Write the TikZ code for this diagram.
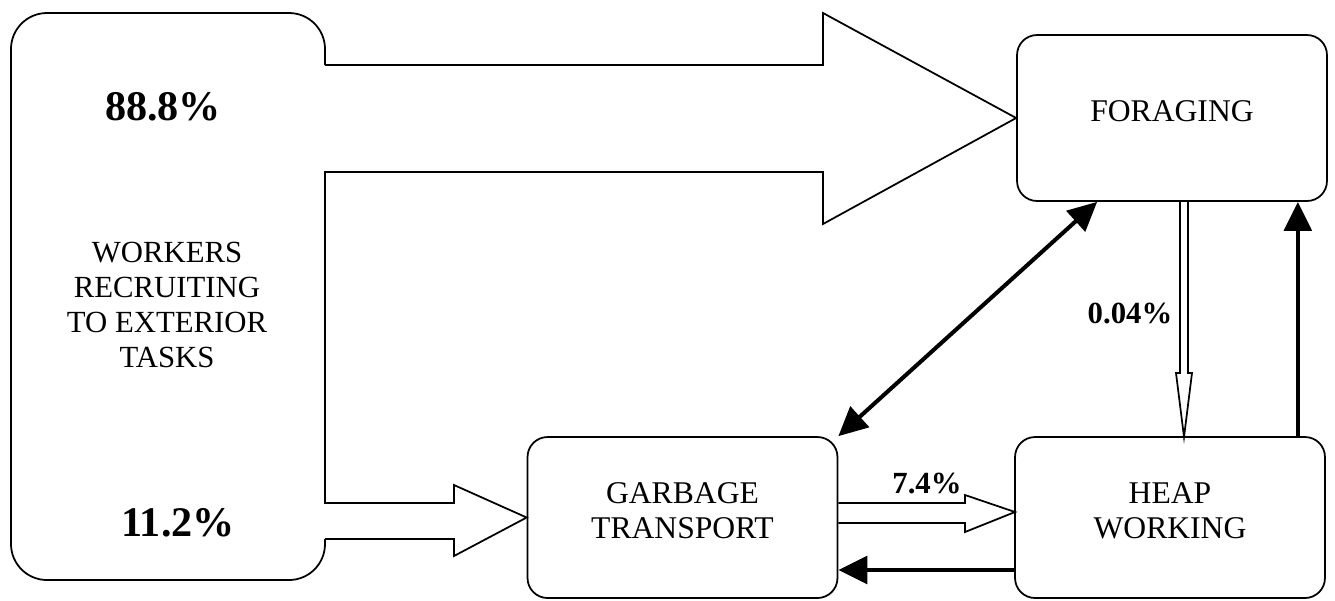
\documentclass[tikz,border=0pt]{standalone}
\usepackage{fontspec}
\setmainfont{Liberation Serif}
\usetikzlibrary{arrows.meta,positioning}

\tikzset{
  task/.style={draw, rounded corners=0.4cm, line width=1pt, minimum width=6.2cm,
    minimum height=3.22cm, align=center, text depth=0.28cm,
    font=\fontsize{18}{20}\selectfont},
  pct/.style={font=\bfseries\fontsize{17.5}{20}\selectfont},
  bigpct/.style={font=\bfseries\fontsize{24}{28}\selectfont},
  outline/.style={line width=1pt, line join=miter},
  heavy/.style={line width=2.3pt, -{Triangle[length=0.58cm,width=0.55cm]}},
}

\begin{document}
\begin{tikzpicture}[x=0.02cm, y=-0.02cm]
  \useasboundingbox (0,0) rectangle (1335,600);

  % task boxes
  \node[task, minimum height=3.32cm] (forage) at (1172,118) {FORAGING};
  \node[task] (garbage) at (682.5,517.5) {GARBAGE\\TRANSPORT};
  \node[task] (heap) at (1170,517.5) {HEAP\\WORKING};

  % recruiting box, open on the right where the flows leave it
  \draw[outline, rounded corners=0.72cm] (325,65) -- (325,13) -- (11,13)
    -- (11,580) -- (325,580) -- (325,539);
  \node[bigpct] (p888) at (163,107) {88.8\%};
  \node[align=center, font=\fontsize{17.5}{19.9}\selectfont] (workers) at (167,305)
    {WORKERS\\RECRUITING\\TO EXTERIOR\\TASKS};
  \node[bigpct] (p112) at (178,523) {11.2\%};

  % the two wide flows
  \draw[outline] (325,539) -- (454,539) -- (454,556) -- (garbage.west)
    -- (454,485) -- (454,503) -- (325,503) -- (325,172) -- (823,172)
    -- (823,224) -- (forage.west) -- (823,13) -- (823,65) -- (325,65);

  % garbage -> heap
  \draw[outline] (garbage.east |- 0,503) -- (965,503) -- (965,495) -- (1015,512)
    -- (965,532) -- (965,523) -- (garbage.east |- 0,523);
  \node[pct] (p74) at (927,483) {7.4\%};

  % foraging -> heap
  \draw[outline] (1180,201) -- (1180,373) -- (1176,373) -- (1184,437)
    -- (1192,373) -- (1188,373) -- (1188,201);
  \node[pct] (p004) at (1130,313) {0.04\%};

  % returns
  \draw[heavy, {Triangle[length=0.58cm,width=0.55cm]}-{Triangle[length=0.58cm,width=0.55cm]}]
    (garbage.north east) -- ([xshift=1.62cm]forage.south west);
  \coordinate (hup) at ([xshift=-0.56cm]heap.north east);
  \draw[heavy] (hup) -- (hup |- forage.south);
  \coordinate (hleft) at ([yshift=-1.05cm]heap.west);
  \draw[heavy] (hleft) -- (hleft -| garbage.east);
\end{tikzpicture}
\end{document}
